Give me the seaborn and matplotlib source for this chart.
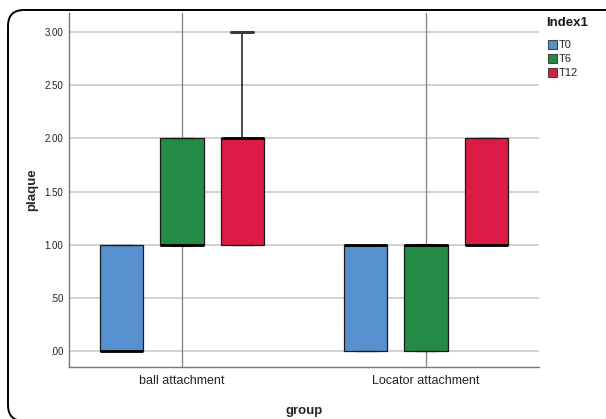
import numpy as np
import pandas as pd
import matplotlib
matplotlib.use("Agg")
import matplotlib.pyplot as plt
from matplotlib.patches import Patch, FancyBboxPatch
from matplotlib.transforms import IdentityTransform
import seaborn as sns

# Plaque scores per patient, by attachment type and time point
groups = ["ball attachment", "Locator attachment"]
times = ["T0", "T6", "T12"]
ball_T0 = [0, 0, 0, 0, 0, 0, 1, 1, 1, 1]
ball_T6 = [1, 1, 1, 1, 1, 1, 2, 2, 2, 2]
ball_T12 = [1, 1, 1, 1, 2, 2, 2, 2, 2, 3]
locator_T0 = [0, 0, 0, 0, 1, 1, 1, 1, 1, 1]
locator_T6 = [0, 0, 0, 0, 1, 1, 1, 1, 1, 1]
locator_T12 = [1, 1, 1, 1, 1, 1, 2, 2, 2, 2]
y_ticks = [0.0, 0.5, 1.0, 1.5, 2.0, 2.5, 3.0]
y_tick_labels = [".00", ".50", "1.00", "1.50", "2.00", "2.50", "3.00"]
colors = ["#5790CE", "#248B45", "#DC1C46"]

series = {
    ("ball attachment", "T0"): ball_T0,
    ("ball attachment", "T6"): ball_T6,
    ("ball attachment", "T12"): ball_T12,
    ("Locator attachment", "T0"): locator_T0,
    ("Locator attachment", "T6"): locator_T6,
    ("Locator attachment", "T12"): locator_T12,
}
rows = []
for (g, t), vals in series.items():
    for v in vals:
        rows.append({"group": g, "Index1": t, "plaque": v})
df = pd.DataFrame(rows)

sns.set_style("white")
plt.rcParams["font.family"] = ["Liberation Sans", "DejaVu Sans"]

W, H = 606, 419
fig = plt.figure(figsize=(W / 100, H / 100), dpi=100)
ax = fig.add_axes([69 / W, 1 - 367 / H, (539 - 69) / W, (367 - 13) / H])

# category gridlines and value gridlines behind the boxes
for i in range(len(groups)):
    ax.axvline(i, color="#8a8a8a", lw=1.0, zorder=0.5)
for yv in y_ticks:
    ax.axhline(yv, color="#cfcfcf", lw=1.3, zorder=0.4)

box_w = 0.74
gap = 0.28
sns.boxplot(
    data=df, x="group", y="plaque", hue="Index1",
    order=groups, hue_order=times, palette=colors,
    width=box_w, gap=gap, whis=1.5, linecolor="#1a1a1a", linewidth=0.9,
    saturation=1, fliersize=0, legend=False, ax=ax,
    medianprops=dict(color="black", linewidth=2.0),
    whiskerprops=dict(color="#1a1a1a", linewidth=1.1),
    capprops=dict(color="#1a1a1a", linewidth=0.9),
)

# thicken only the caps that end a whisker of non-zero length
segs = [(ln, *ln.get_data()) for ln in ax.lines]
whisker_ends = []
for ln, xs, ys in segs:
    xs, ys = np.asarray(xs, float), np.asarray(ys, float)
    if len(xs) == 2 and xs[0] == xs[1] and ys[0] != ys[1]:
        whisker_ends.append((xs[0], ys[1]))
for ln, xs, ys in segs:
    xs, ys = np.asarray(xs, float), np.asarray(ys, float)
    if len(xs) == 2 and ys[0] == ys[1] and xs[0] != xs[1]:
        cx = xs.mean()
        span = abs(xs[1] - xs[0])
        if span < 0.8 * box_w / 3 * (1 - gap):
            for wx, wy in whisker_ends:
                if abs(wx - cx) < 1e-6 and abs(wy - ys[0]) < 1e-6:
                    ln.set_linewidth(2.2)
                    ln.set_color("#3a3a3a")

ax.set_xlim(-0.463, 1.463)
ax.set_ylim(-0.15, 3.18)
ax.set_yticks(y_ticks)
ax.set_yticklabels(y_tick_labels)
ax.tick_params(axis="y", length=0, pad=4, labelsize=7, colors="#222222")
ax.tick_params(axis="x", length=0, pad=6, labelsize=9, colors="#222222")
for side in ["top", "right"]:
    ax.spines[side].set_visible(False)
for side in ["left", "bottom"]:
    ax.spines[side].set_color("#777777")
    ax.spines[side].set_linewidth(1.0)
ax.set_xlabel("group", fontsize=9.5, fontweight="bold", labelpad=13)
ax.set_ylabel("plaque", fontsize=9.5, fontweight="bold", labelpad=5)

# legend: title and entries
fig.text(546 / W, 1 - 23 / H, "Index1", fontsize=9.5, fontweight="bold",
         ha="left", va="center", color="#1a1a1a")
handles = [Patch(facecolor=c, edgecolor="#444444", linewidth=0.8) for c in colors]
leg = fig.legend(
    handles, times, loc="upper left",
    bbox_to_anchor=(548 / W, 1 - 40 / H), frameon=False,
    fontsize=8, handlelength=0.85, handleheight=0.85,
    handletextpad=0.15, labelspacing=0.33, borderaxespad=0, borderpad=0,
)

# rounded chart frame
frame = FancyBboxPatch(
    (8, -2), 620, H - 10 + 2,
    boxstyle="round,pad=0,rounding_size=16",
    transform=IdentityTransform(), fill=False,
    edgecolor="black", linewidth=1.4,
)
fig.patches.append(frame)

fig.savefig("out.png", dpi=100)
